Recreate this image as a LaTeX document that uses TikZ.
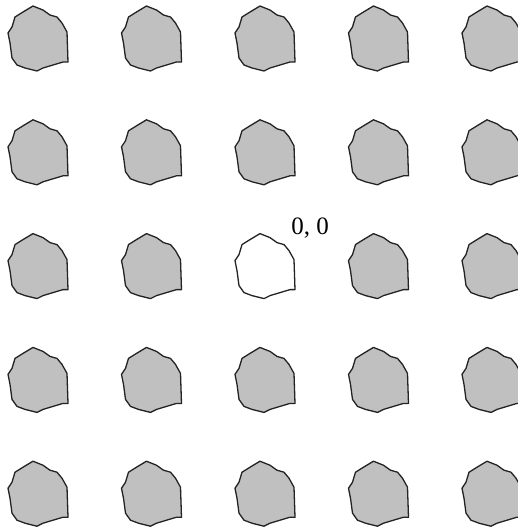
\documentclass[tikz,border=0pt]{standalone}
\usepackage{fontspec}
\setmainfont{Liberation Serif}
\definecolor{blobfill}{RGB}{192,192,192}
\definecolor{blobline}{RGB}{35,35,35}
\tikzset{
  blob/.style={draw=blobline,line width=1.3pt,line join=round,fill=blobfill},
  blobempty/.style={draw=blobline,line width=1.3pt,line join=round,fill=white},
  lbl/.style={inner sep=0pt,font=\fontsize{25}{28}\selectfont}
}
\newcommand{\blobpath}{(33,6) -- (43,10) -- (50,15) -- (57,17) -- (62,23) -- (67,32) -- (68,62) -- (63,62) -- (53,65) -- (43,68) -- (37,71) -- (25,68) -- (17,65) -- (12,58) -- (10,43) -- (8,33) -- (12,27) -- (15,17) -- (23,12) -- cycle}
\begin{document}
\begin{tikzpicture}[x=1pt,y=-1pt]
\useasboundingbox (0,0) rectangle (518,531);
\foreach \i in {0,...,4}{
  \foreach \j in {0,...,4}{
    \ifnum\i=2 \ifnum\j=2
      \begin{scope}[shift={(113.5*\i,113.8*\j)}]
        \path[blobempty] \blobpath;
      \end{scope}
    \else
      \begin{scope}[shift={(113.5*\i,113.8*\j)}]
        \path[blob] \blobpath;
      \end{scope}
    \fi\else
      \begin{scope}[shift={(113.5*\i,113.8*\j)}]
        \path[blob] \blobpath;
      \end{scope}
    \fi
  }
}
\node[lbl] (origin) at (310,228) {0, 0};
\end{tikzpicture}
\end{document}
